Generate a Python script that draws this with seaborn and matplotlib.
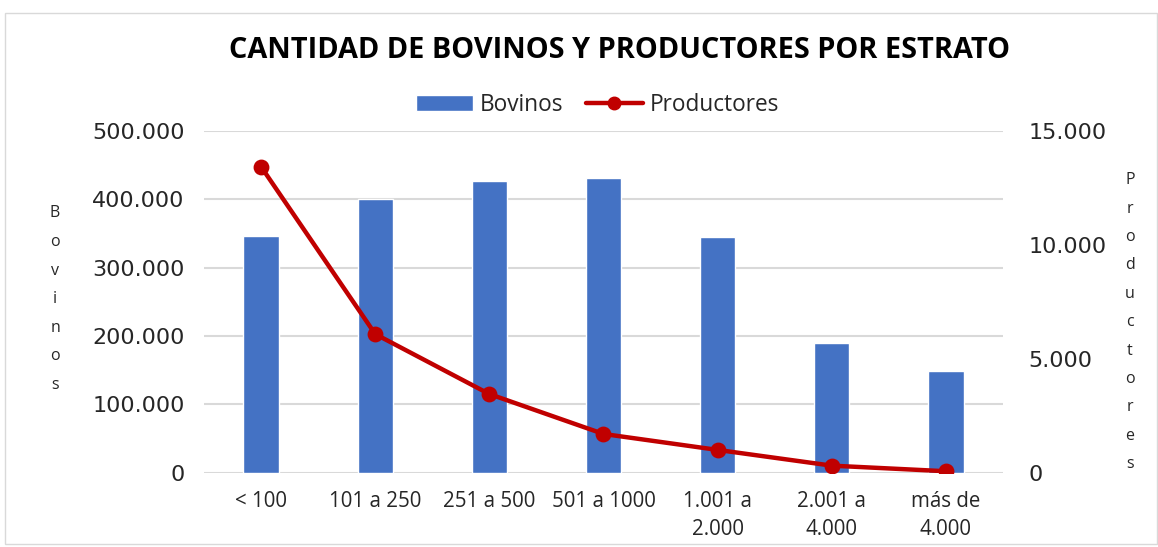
import matplotlib
matplotlib.use("Agg")
import matplotlib.pyplot as plt
import matplotlib.ticker as mticker
from matplotlib.lines import Line2D
from matplotlib.patches import Patch, Rectangle
import seaborn as sns
import pandas as pd

estratos = ["< 100", "101 a 250", "251 a 500", "501 a 1000",
            "1.001 a\n2.000", "2.001 a\n4.000", "más de\n4.000"]
bovinos = [346500, 400000, 426000, 431000, 344000, 189000, 148000]
productores = [13420, 6080, 3450, 1700, 1000, 310, 65]

bar_color = "#4472c4"
line_color = "#c00000"
grid_color = "#d9d9d9"
text_color = "#000000"

df = pd.DataFrame({"estrato": estratos, "bovinos": bovinos, "productores": productores})

sns.set_style("white")
plt.rcParams["font.family"] = ["Open Sans", "DejaVu Sans"]

fig = plt.figure(figsize=(11.58, 5.47), dpi=100)
ax = fig.add_axes([0.1762, 0.1358, 0.6899, 0.6252])

sns.barplot(data=df, x="estrato", y="bovinos", color=bar_color, width=0.31,
            saturation=1, ax=ax, zorder=2)
ax.set_ylim(0, 500000)
ax.set_yticks(range(0, 500001, 100000))
fmt = mticker.FuncFormatter(lambda v, p: f"{int(v):,}".replace(",", "."))
ax.yaxis.set_major_formatter(fmt)
ax.grid(axis="y", color=grid_color, linewidth=1.5, zorder=0)
ax.set_axisbelow(True)
for s in ax.spines.values():
    s.set_visible(False)
ax.tick_params(axis="both", length=0)
ax.tick_params(axis="y", labelsize=16, pad=14)
ax.tick_params(axis="x", labelsize=14.8, pad=13)
for lbl in ax.get_yticklabels():
    lbl.set_family("DejaVu Sans")
for lbl in ax.get_xticklabels():
    lbl.set_linespacing(1.45)
ax.set_xlabel("")
ax.set_ylabel("")

ax2 = ax.twinx()
sns.pointplot(data=df, x="estrato", y="productores", color=line_color,
              markers="o", linestyles="-", ax=ax2, markersize=9,
              linewidth=3.2, zorder=3)
ax2.set_ylim(0, 15000)
ax2.set_yticks(range(0, 15001, 5000))
ax2.yaxis.set_major_formatter(fmt)
for s in ax2.spines.values():
    s.set_visible(False)
ax2.tick_params(axis="y", length=0, labelsize=16, pad=18.5)
for lbl in ax2.get_yticklabels():
    lbl.set_family("DejaVu Sans")
ax2.set_ylabel("")
ax2.set_xlim(ax.get_xlim())

fig.text(0.535, 0.907, "CANTIDAD DE BOVINOS Y PRODUCTORES POR ESTRATO",
         ha="center", va="center", fontsize=20.8, fontweight="bold",
         color=text_color)

fig.text(0.0475, 0.453, "\n".join("Bovinos"), ha="center", va="center",
         fontsize=11.5, linespacing=2.05)
fig.text(0.9758, 0.411, "\n".join("Productores"), ha="center", va="center",
         fontsize=11.5, linespacing=2.03)

handles = [Patch(facecolor=bar_color, label="Bovinos"),
           Line2D([0], [0], color=line_color, lw=3.2, marker="o",
                  markersize=9, label="Productores")]
fig.legend(handles=handles, loc="center", bbox_to_anchor=(0.516, 0.808),
           ncol=2, frameon=False, fontsize=16.3, handlelength=2.5,
           handletextpad=0.3, columnspacing=1.0)

fig.add_artist(Rectangle((0.004, 0.005), 0.995, 0.972, transform=fig.transFigure,
                         fill=False, edgecolor="#d9d9d9", linewidth=1))

fig.savefig("out.png", dpi=100)
